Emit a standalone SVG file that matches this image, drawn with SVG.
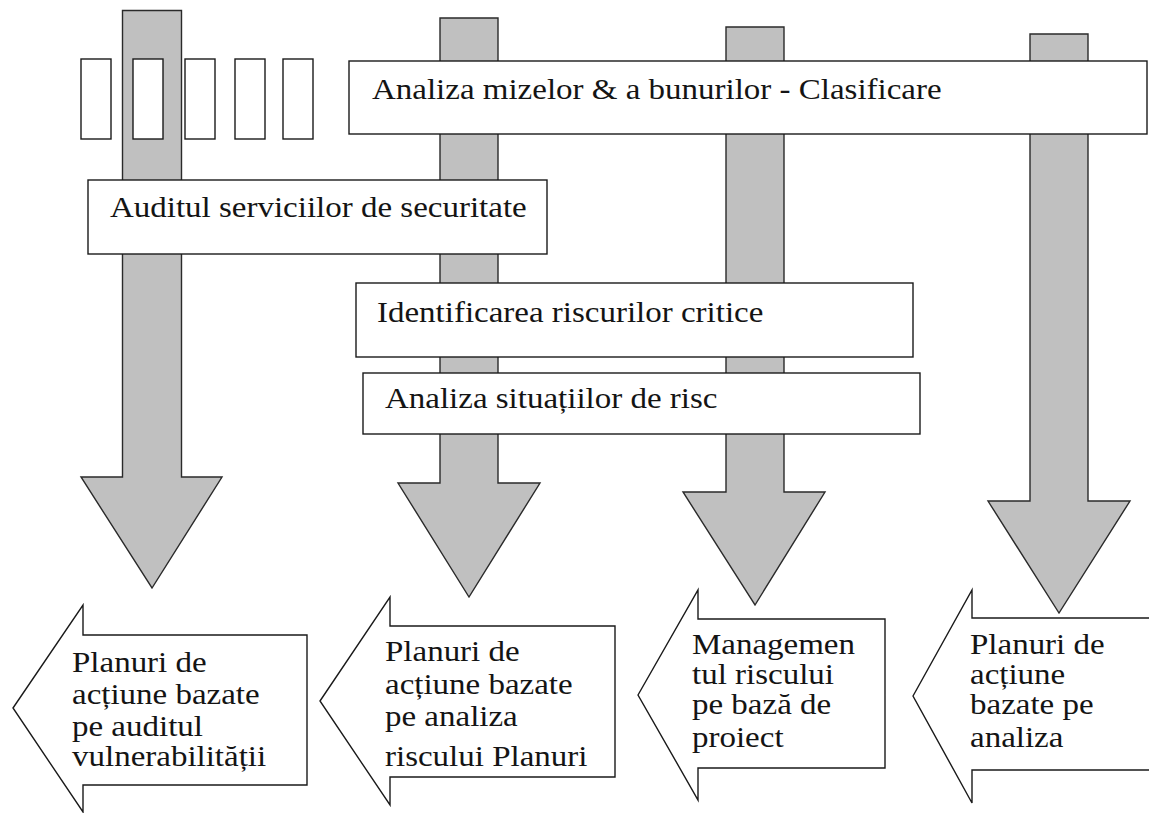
<svg xmlns="http://www.w3.org/2000/svg" width="1149" height="813" viewBox="0 0 1149 813">
<style>
.flow{fill:#c0c0c0;stroke:#2a2a2a;stroke-width:1.4;stroke-linejoin:miter}
.box{fill:#ffffff;stroke:#1a1a1a;stroke-width:1.4}
.out{fill:#ffffff;stroke:#1a1a1a;stroke-width:1.4;stroke-linejoin:miter}
.t{font-family:"Liberation Serif","Times New Roman",serif;font-size:30px;fill:#141414}
</style>
<rect width="1149" height="813" fill="#ffffff"/>
<g id="connectors">
<polygon class="flow" points="122.5,10.5 181.5,10.5 181.5,477 222,477 152,588 81,477 122.5,477"/>
<polygon class="flow" points="440,18 498,18 498,483 540,483 469,597 398,483 440,483"/>
<polygon class="flow" points="726,27 784,27 784,492 825,492 755,605 683,492 726,492"/>
<polygon class="flow" points="1030,34 1088,34 1088,501 1130,501 1059,613 988,501 1030,501"/>
</g>
<g id="small-boxes">
<rect class="box" x="81" y="59" width="30" height="80"/>
<rect class="box" x="133" y="59" width="30" height="80"/>
<rect class="box" x="185" y="59" width="30" height="80"/>
<rect class="box" x="235" y="59" width="30" height="80"/>
<rect class="box" x="283" y="59" width="30" height="80"/>
</g>
<g id="node-analiza-mizelor">
<rect class="box" x="349" y="61" width="798" height="73"/>
<text class="t" transform="translate(372,99) scale(1.1,1)">Analiza mizelor &amp; a bunurilor - Clasificare</text>
</g>
<g id="node-audit">
<rect class="box" x="88" y="180" width="459" height="74"/>
<text class="t" transform="translate(110,217) scale(1.1,1)">Auditul serviciilor de securitate</text>
</g>
<g id="node-identificarea">
<rect class="box" x="356" y="283" width="557" height="74"/>
<text class="t" transform="translate(377,322) scale(1.1,1)">Identificarea riscurilor critice</text>
</g>
<g id="node-situatii">
<rect class="box" x="363" y="373" width="557" height="61"/>
<text class="t" transform="translate(385,408) scale(1.1,1)">Analiza situațiilor de risc</text>
</g>
<g id="node-out-1">
<polygon class="out" points="13,708 83,605 83,635 307,635 307,785 83,785 83,812"/>
<text class="t" transform="translate(72,672) scale(1.1,1)"><tspan x="0" y="0">Planuri de</tspan><tspan x="0" y="32">acțiune bazate</tspan><tspan x="0" y="64">pe auditul</tspan><tspan x="0" y="94">vulnerabilității</tspan></text>
</g>
<g id="node-out-2">
<polygon class="out" points="320,701 390,597 390,626 615,626 615,777 390,777 390,805"/>
<text class="t" transform="translate(385,661) scale(1.1,1)"><tspan x="0" y="0">Planuri de</tspan><tspan x="0" y="33">acțiune bazate</tspan><tspan x="0" y="65">pe analiza</tspan><tspan x="0" y="105">riscului Planuri</tspan></text>
</g>
<g id="node-out-3">
<polygon class="out" points="638,695 698,590 698,619 885,619 885,768 698,768 698,800"/>
<text class="t" transform="translate(692,654) scale(1.1,1)"><tspan x="0" y="0">Managemen</tspan><tspan x="0" y="30">tul riscului</tspan><tspan x="0" y="60">pe bază de</tspan><tspan x="0" y="93">proiect</tspan></text>
</g>
<g id="node-out-4">
<polygon class="out" points="913,696 972,590 972,618 1160,618 1160,770 972,770 972,803"/>
<text class="t" transform="translate(970,654) scale(1.1,1)"><tspan x="0" y="0">Planuri de</tspan><tspan x="0" y="30">acțiune</tspan><tspan x="0" y="60">bazate pe</tspan><tspan x="0" y="93">analiza</tspan></text>
</g>
</svg>
